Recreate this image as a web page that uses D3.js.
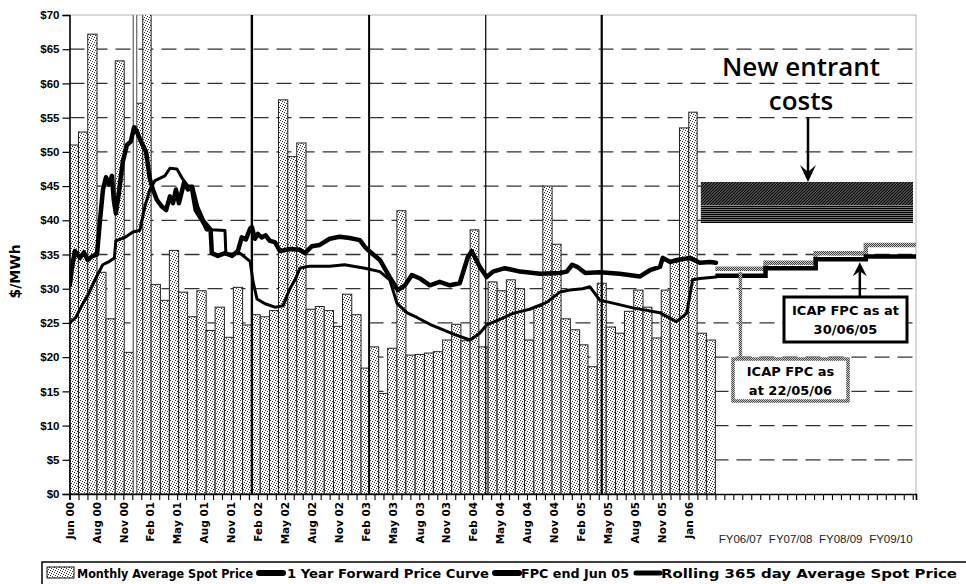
<!DOCTYPE html>
<html><head><meta charset="utf-8">
<script src="https://cdn.jsdelivr.net/npm/d3@7"></script>
<style>
body{margin:0;background:#fff;}
svg{display:block;}
</style></head><body>
<svg id="chart" width="966" height="584"></svg>
<script>
// ---- data -------------------------------------------------------------
const firstMonth = "2000-06-01";
// Monthly average spot price, $/MWh, Jun 00 .. Apr 06
const monthlySpot = [
  51.0, 52.9, 67.2, 32.4, 25.6, 63.3, 20.7, 57.1, 95.0, 30.6, 28.3, 35.6,
  29.5, 25.9, 29.7, 23.9, 27.3, 22.9, 30.2, 24.7, 26.2, 25.9, 26.8, 57.6,
  49.3, 51.3, 27.0, 27.4, 26.8, 24.5, 29.2, 26.2, 18.4, 21.5, 14.7, 21.3,
  41.4, 20.3, 20.4, 20.6, 20.8, 22.5, 24.8, 22.4, 38.6, 21.5, 31.0, 29.7,
  31.3, 30.0, 22.5, 27.4, 45.0, 36.5, 25.6, 24.0, 21.8, 18.6, 30.8, 24.4,
  23.5, 26.7, 29.8, 27.3, 22.8, 29.8, 33.9, 53.5, 55.8, 23.5, 22.5
];
// 1 year forward price curve
const forwardCurve = [
  ["2000-06-02",30.5],["2000-06-09",33],["2000-06-19",35.5],["2000-07-06",34.5],["2000-07-19",35.3],
  ["2000-08-01",34.2],["2000-08-18",34.8],["2000-09-01",35.0],["2000-09-11",40],["2000-09-21",44.5],
  ["2000-10-01",46.3],["2000-10-11",45.2],["2000-10-21",46.5],["2000-10-27",43],["2000-11-03",41.0],
  ["2000-11-13",44],["2000-11-26",48.5],["2000-12-10",51.0],["2000-12-23",51.5],["2001-01-03",53.6],
  ["2001-01-12",53],["2001-01-26",51.5],["2001-02-12",50],["2001-02-25",46],["2001-03-07",44.5],
  ["2001-03-20",43],["2001-04-06",42],["2001-04-20",41.5],["2001-05-03",43.5],["2001-05-13",42.5],
  ["2001-05-23",44.5],["2001-06-02",42.5],["2001-06-19",45.5],["2001-07-02",44.5],["2001-07-15",44.8],
  ["2001-07-28",41.5],["2001-08-11",40.5],["2001-08-24",39.6],["2001-09-03",38.7],["2001-09-16",38.6],
  ["2001-09-20",35.2],["2001-10-10",34.8],["2001-11-03",35.2],["2001-11-27",34.8],["2001-12-16",35.5],
  ["2001-12-29",37.5],["2002-01-12",37.2],["2002-01-26",38.8],["2002-02-01",39.0],["2002-02-11",37.3],
  ["2002-02-21",38.0],["2002-03-06",37.5],["2002-03-19",37.8],["2002-04-02",37],["2002-04-19",36.8],
  ["2002-05-06",35.5],["2002-06-08",35.8],["2002-07-11",35.7],["2002-07-28",35.2],["2002-08-20",36.2],
  ["2002-09-16",36.4],["2002-10-19",37.3],["2002-11-21",37.6],["2002-12-25",37.4],["2003-01-28",37.1],
  ["2003-02-14",36.1],["2003-03-03",35.4],["2003-04-05",34.2],["2003-05-08",31.7],["2003-06-04",29.8],
  ["2003-06-28",30.5],["2003-07-21",32],["2003-08-17",31.5],["2003-09-19",30.5],["2003-10-22",31],
  ["2003-11-25",30.5],["2003-12-28",30.8],["2004-01-24",34.6],["2004-02-06",35.5],["2004-03-04",33.2],
  ["2004-03-27",31.7],["2004-04-17",32.5],["2004-05-27",33],["2004-07-17",32.5],["2004-09-22",32.2],
  ["2004-11-27",32.3],["2004-12-20",32.5],["2005-01-07",33.5],["2005-01-24",33.2],["2005-02-20",32.3],
  ["2005-04-10",32.4],["2005-06-15",32.2],["2005-08-22",31.8],["2005-09-24",32.7],["2005-10-28",33.2],
  ["2005-11-06",34.5],["2005-12-01",33.9],["2005-12-24",34.2],["2006-02-05",34.5],["2006-03-10",33.8],
  ["2006-04-13",33.9],["2006-05-03",33.8]
];
// Rolling 365 day average spot price
const rollingAvg = [
  ["2000-06-02",25.0],["2000-06-22",25.8],["2000-07-12",27.5],["2000-08-01",29.0],["2000-08-28",31.5],
  ["2000-09-20",33.5],["2000-10-13",34.0],["2000-10-29",34.5],["2000-11-03",37.0],["2000-12-03",37.5],
  ["2000-12-30",38.3],["2001-01-22",38.5],["2001-02-08",42],["2001-02-25",44.5],["2001-03-14",45.8],
  ["2001-04-16",46.5],["2001-05-03",47.6],["2001-05-26",47.5],["2001-06-15",46],["2001-07-02",45],
  ["2001-07-18",45],["2001-08-04",42],["2001-08-24",40],["2001-09-20",38.6],["2001-11-03",38.5],
  ["2001-11-06",35.0],["2001-12-23",35.2],["2002-01-26",34],["2002-02-05",31],["2002-02-18",28.5],
  ["2002-03-17",27.8],["2002-04-19",27.3],["2002-05-16",27.5],["2002-06-08",30],["2002-06-28",31.5],
  ["2002-07-11",33.0],["2002-08-13",33.3],["2002-10-19",33.3],["2002-12-08",33.5],["2003-02-14",33],
  ["2003-04-05",32.5],["2003-05-08",31.3],["2003-06-01",27.9],["2003-07-04",26.5],["2003-08-07",25.8],
  ["2003-09-19",24.8],["2003-10-22",24.2],["2003-12-11",23.3],["2004-02-01",22.5],["2004-03-04",23.5],
  ["2004-03-27",24.7],["2004-05-10",25.5],["2004-06-23",26.4],["2004-08-18",27],["2004-10-14",28],
  ["2004-11-27",29.5],["2004-12-30",29.8],["2005-02-11",30.0],["2005-03-07",30.3],["2005-04-10",28.3],
  ["2005-05-13",28],["2005-07-29",27.2],["2005-10-27",26.5],["2005-12-22",25.2],["2006-01-25",26.4],
  ["2006-02-14",31.3],["2006-03-10",31.5],["2006-05-03",31.7]
];
// Forward price curves by financial year
const fyLabels = ["FY06/07", "FY07/08", "FY08/09", "FY09/10"];
const fpcJun05 = [31.9, 33.0, 34.3, 34.7];
const fpcMay06 = [32.9, 33.8, 35.2, 36.4];
const newEntrantLow = [39.6, 42.2];
const newEntrantHigh = [42.2, 45.6];
// Axis
const yTicks = [0, 5, 10, 15, 20, 25, 30, 35, 40, 45, 50, 55, 60, 65, 70];
const xTickLabels = ["Jun 00","Aug 00","Nov 00","Feb 01","May 01","Aug 01","Nov 01","Feb 02",
  "May 02","Aug 02","Nov 02","Feb 03","May 03","Aug 03","Nov 03","Feb 04","May 04","Aug 04",
  "Nov 04","Feb 05","May 05","Aug 05","Nov 05","Jan 06"];
const axisStart = "2000-06-01", axisEnd = "2008-03-02", fyStart = "2006-05-01";
const markerDates = ["2001-01-06", "2002-02-01", "2003-02-28", "2004-03-24", "2005-04-16"];
const markerWidths = [1, 2.4, 2, 1.2, 2.2];
const legendItems = ["Monthly Average Spot Price", "1 Year Forward Price Curve", "FPC end Jun 05", "Rolling 365 day Average Spot Price"];

// ---- layout -----------------------------------------------------------
const m = {left: 69.5, right: 916, top: 15, bottom: 494};
const parse = d3.utcParse("%Y-%m-%d");
const svg = d3.select("#chart");
const defs = svg.append("defs");

const x = d3.scaleUtc().domain([parse(axisStart), parse(axisEnd)]).range([m.left, m.right]);
const y = d3.scaleLinear().domain([0, 70]).range([m.bottom, m.top]);
const fy = d3.scaleLinear().domain([0, fyLabels.length]).range([x(parse(fyStart)), m.right]);

// patterns: stipple for the spot price bars
const dots = defs.append("pattern").attr("id", "dots").attr("patternUnits", "userSpaceOnUse")
  .attr("width", 5).attr("height", 5);
dots.append("rect").attr("width", 5).attr("height", 5).attr("fill", "#fff");
[[0, 0], [2, 1], [4, 2], [1, 3], [3, 4]].forEach(([px, py]) =>
  dots.append("rect").attr("x", px).attr("y", py).attr("width", 1).attr("height", 1).attr("fill", "#333"));

const checker = defs.append("pattern").attr("id", "checker").attr("patternUnits", "userSpaceOnUse")
  .attr("width", 2).attr("height", 2);
checker.append("rect").attr("width", 2).attr("height", 2).attr("fill", "#c8c8c8");
checker.append("rect").attr("width", 1).attr("height", 1).attr("fill", "#444");
checker.append("rect").attr("x", 1).attr("y", 1).attr("width", 1).attr("height", 1).attr("fill", "#444");

const diag = defs.append("pattern").attr("id", "diag").attr("patternUnits", "userSpaceOnUse")
  .attr("width", 3).attr("height", 3);
diag.append("rect").attr("width", 3).attr("height", 3).attr("fill", "#6a6a6a");
diag.append("path").attr("d", "M0,3L3,0M-1,1L1,-1M2,4L4,2").attr("stroke", "#000").attr("stroke-width", 1.2);

const horiz = defs.append("pattern").attr("id", "horiz").attr("patternUnits", "userSpaceOnUse")
  .attr("width", 2).attr("height", 2);
horiz.append("rect").attr("width", 2).attr("height", 2).attr("fill", "#777");
horiz.append("rect").attr("width", 2).attr("height", 1).attr("fill", "#000");

defs.append("clipPath").attr("id", "plotClip").append("rect")
  .attr("x", m.left).attr("y", m.top).attr("width", m.right - m.left).attr("height", m.bottom - m.top);

// ---- gridlines ----------------------------------------------------------
svg.append("g").selectAll("line").data(yTicks.filter(d => d > 0 && d < 70)).join("line")
  .attr("x1", m.left).attr("x2", m.right)
  .attr("y1", d => y(d)).attr("y2", d => y(d))
  .attr("stroke", "#333").attr("stroke-width", 1.3).attr("stroke-dasharray", "15,8");
// plot border (top and right)
svg.append("path")
  .attr("d", `M${m.left},${y(70)}H${m.right}V${m.bottom}`)
  .attr("fill", "none").attr("stroke", "#666").attr("stroke-width", 1).attr("stroke-dasharray", "1,1");

const plot = svg.append("g").attr("clip-path", "url(#plotClip)");

// ---- monthly bars -----------------------------------------------------
const m0 = parse(firstMonth);
const bars = monthlySpot.map((v, i) => ({
  start: d3.utcMonth.offset(m0, i), end: d3.utcMonth.offset(m0, i + 1), v
}));
plot.append("g").selectAll("rect").data(bars).join("rect")
  .attr("x", d => x(d.start)).attr("width", d => x(d.end) - x(d.start))
  .attr("y", d => y(d.v)).attr("height", d => y(0) - y(d.v))
  .attr("fill", "url(#dots)").attr("stroke", "#222").attr("stroke-width", 1);

// ---- year markers -------------------------------------------------------
plot.append("g").selectAll("line").data(markerDates).join("line")
  .attr("x1", d => x(parse(d))).attr("x2", d => x(parse(d)))
  .attr("y1", m.top).attr("y2", m.bottom)
  .attr("stroke", "#000").attr("stroke-width", (d, i) => markerWidths[i]);
// first marker drawn as an outlined double rule
plot.append("rect")
  .attr("x", x(parse(markerDates[0])) - 1.8).attr("width", 3.6)
  .attr("y", m.top - 2).attr("height", m.bottom - m.top + 2)
  .attr("fill", "#fff").attr("stroke", "#333").attr("stroke-width", 0.9);

// ---- new entrant costs band -------------------------------------------
const neX0 = fy(-0.29), neX1 = fy(3.94);
plot.append("rect").attr("x", neX0).attr("width", neX1 - neX0)
  .attr("y", y(newEntrantHigh[1])).attr("height", y(newEntrantHigh[0]) - y(newEntrantHigh[1]))
  .attr("fill", "url(#diag)");
plot.append("rect").attr("x", neX0).attr("width", neX1 - neX0)
  .attr("y", y(newEntrantLow[1])).attr("height", y(newEntrantLow[0]) - y(newEntrantLow[1]))
  .attr("fill", "url(#horiz)");

// ---- lines ------------------------------------------------------------
const timeLine = d3.line().x(d => x(parse(d[0]))).y(d => y(d[1]));
plot.append("path").datum(rollingAvg).attr("d", timeLine)
  .attr("fill", "none").attr("stroke", "#000").attr("stroke-width", 3)
  .attr("stroke-linejoin", "round").attr("stroke-linecap", "round");
plot.append("path").datum(forwardCurve).attr("d", timeLine)
  .attr("fill", "none").attr("stroke", "#000").attr("stroke-width", 4.5)
  .attr("stroke-linejoin", "round").attr("stroke-linecap", "round");

const stepLine = d3.line().x(d => fy(d.i)).y(d => y(d.v)).curve(d3.curveStepAfter);
const stepData = arr => arr.map((v, i) => ({i, v})).concat([{i: arr.length, v: arr[arr.length - 1]}]);
plot.append("path").datum(stepData(fpcMay06)).attr("d", stepLine)
  .attr("fill", "none").attr("stroke", "url(#checker)").attr("stroke-width", 4.5);
plot.append("path").datum(stepData(fpcJun05)).attr("d", stepLine)
  .attr("fill", "none").attr("stroke", "#000").attr("stroke-width", 4.5);

// ---- axes -------------------------------------------------------------
const yAxis = d3.axisLeft(y).tickValues(yTicks).tickFormat(d => "$" + d).tickSize(7).tickPadding(3);
const gy = svg.append("g").attr("transform", `translate(${m.left},0)`).call(yAxis);
gy.select(".domain").attr("stroke", "#000").attr("stroke-width", 1.6);
gy.selectAll(".tick line").attr("stroke", "#000").attr("stroke-width", 1.2);
gy.selectAll("text").attr("font-family", "'Liberation Sans', Arial, sans-serif")
  .attr("font-weight", "bold").attr("font-size", 11.5).attr("fill", "#000");

const tickDates = d3.range(0, 95).map(i => d3.utcDay.offset(parse(axisStart), 30 * i))
  .filter(d => x(d) <= m.right + 0.5);
const xAxis = d3.axisBottom(x).tickValues(tickDates).tickSize(6)
  .tickFormat((d, i) => (i % 3 === 0 && xTickLabels[i / 3]) ? xTickLabels[i / 3] : "");
const gx = svg.append("g").attr("transform", `translate(0,${m.bottom})`).call(xAxis);
gx.select(".domain").attr("stroke", "#000").attr("stroke-width", 1.6);
gx.selectAll(".tick line").attr("stroke", "#000").attr("stroke-width", 1.1);
gx.selectAll("text")
  .attr("font-family", "'DejaVu Sans', Verdana, sans-serif").attr("font-weight", "bold")
  .attr("font-size", 10.5).attr("fill", "#000")
  .attr("transform", "rotate(-90)").attr("text-anchor", "end")
  .attr("x", -8).attr("y", 0).attr("dy", "0.35em");

svg.append("g").selectAll("text").data(fyLabels).join("text")
  .attr("x", (d, i) => fy(i + 0.5)).attr("y", 543)
  .attr("text-anchor", "middle")
  .attr("font-family", "'Liberation Sans', Arial, sans-serif").attr("font-size", 11.5).attr("fill", "#222")
  .text(d => d);

// y-axis title
svg.append("text").attr("transform", `translate(20,${(m.top + m.bottom) / 2 + 17}) rotate(-90)`)
  .attr("text-anchor", "middle")
  .attr("font-family", "'DejaVu Sans', Verdana, sans-serif").attr("font-weight", "bold")
  .attr("font-size", 14).text("$/MWh");

// ---- annotations ------------------------------------------------------
const ann = svg.append("g").attr("font-family", "'DejaVu Sans', Verdana, sans-serif");
const neText = ann.append("text").attr("text-anchor", "middle")
  .attr("font-family", "'Open Sans', sans-serif").attr("font-weight", 600).attr("font-size", 26);
neText.append("tspan").attr("x", 801).attr("y", 76).text("New entrant");
neText.append("tspan").attr("x", 801).attr("y", 110).text("costs");
const arrowDown = (ax, y0, y1) => {
  ann.append("line").attr("x1", ax).attr("x2", ax).attr("y1", y0).attr("y2", y1 - 10)
    .attr("stroke", "#000").attr("stroke-width", 2.5);
  ann.append("path").attr("d", `M${ax - 8},${y1 - 17}L${ax},${y1}L${ax + 8},${y1 - 17}L${ax},${y1 - 10}Z`).attr("fill", "#000");
};
arrowDown(808, 117, y(newEntrantHigh[1]));

// callout: ICAP FPC as at 30/06/05
const c1x = fy(2.88);
ann.append("line").attr("x1", c1x).attr("x2", c1x).attr("y1", 297).attr("y2", y(fpcJun05[2]) + 12)
  .attr("stroke", "#000").attr("stroke-width", 2.5);
ann.append("path").attr("d", `M${c1x - 7},${y(fpcJun05[2]) + 17}L${c1x},${y(fpcJun05[2]) + 3}L${c1x + 7},${y(fpcJun05[2]) + 17}L${c1x},${y(fpcJun05[2]) + 12}Z`).attr("fill", "#000");
ann.append("rect").attr("x", 784).attr("y", 297).attr("width", 123).attr("height", 45)
  .attr("fill", "#fff").attr("stroke", "#000").attr("stroke-width", 3);
const t1 = ann.append("text").attr("text-anchor", "middle").attr("font-weight", "bold").attr("font-size", 13);
t1.append("tspan").attr("x", 845.5).attr("y", 315).text("ICAP FPC as at");
t1.append("tspan").attr("x", 845.5).attr("y", 334).text("30/06/05");

// callout: ICAP FPC as at 22/05/06
const c2x = fy(0.5);
ann.append("line").attr("x1", c2x).attr("x2", c2x).attr("y1", y(fpcMay06[0]) + 3).attr("y2", 359)
  .attr("stroke", "url(#checker)").attr("stroke-width", 3.5);
ann.append("rect").attr("x", 733).attr("y", 359).attr("width", 115).attr("height", 42)
  .attr("fill", "#fff").attr("stroke", "url(#checker)").attr("stroke-width", 3.5);
const t2 = ann.append("text").attr("text-anchor", "middle").attr("font-weight", "bold").attr("font-size", 13);
t2.append("tspan").attr("x", 790.5).attr("y", 376).text("ICAP FPC as");
t2.append("tspan").attr("x", 790.5).attr("y", 395).text("at 22/05/06");

// ---- legend -----------------------------------------------------------
const lg = svg.append("g").attr("font-family", "'DejaVu Sans', Verdana, sans-serif")
  .attr("font-weight", "bold").attr("font-size", 12.5);
lg.append("rect").attr("x", 42).attr("y", 562).attr("width", 930).attr("height", 30)
  .attr("fill", "#fff").attr("stroke", "#000").attr("stroke-width", 1.5);
lg.append("rect").attr("x", 47).attr("y", 567).attr("width", 27).attr("height", 11)
  .attr("fill", "url(#dots)").attr("stroke", "#111");
const legendX = [77, 287, 521, 661];
const legendW = [176, 202, 108, 296];
const swatchX = [null, 259, 495, 636];
legendItems.forEach((t, i) => {
  if (swatchX[i] !== null) {
    lg.append("line").attr("x1", swatchX[i]).attr("x2", swatchX[i] + 24).attr("y1", 573).attr("y2", 573)
      .attr("stroke", "#000").attr("stroke-width", i === 3 ? 5 : 6).attr("stroke-linecap", "round");
  }
  lg.append("text").attr("x", legendX[i]).attr("y", 578)
    .attr("textLength", legendW[i]).attr("lengthAdjust", "spacingAndGlyphs").text(t);
});
</script>
</body></html>
